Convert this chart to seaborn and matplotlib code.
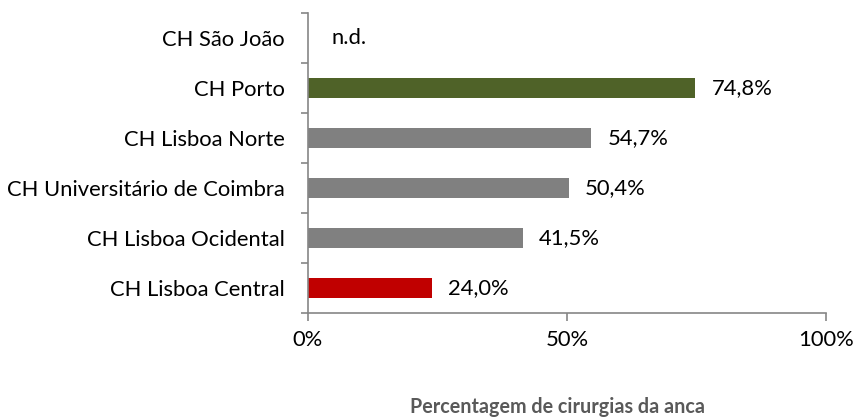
import matplotlib
matplotlib.use("Agg")
import matplotlib.pyplot as plt
import matplotlib.ticker as mticker
import seaborn as sns
import numpy as np
import pandas as pd

# dados (de cima para baixo)
hospitais = ["CH São João", "CH Porto", "CH Lisboa Norte",
             "CH Universitário de Coimbra", "CH Lisboa Ocidental", "CH Lisboa Central"]
percentagem = [np.nan, 74.8, 54.7, 50.4, 41.5, 24.0]
cores = ["#808080", "#4F6228", "#808080", "#808080", "#808080", "#C00000"]
rotulos = ["n.d.", "74,8%", "54,7%", "50,4%", "41,5%", "24,0%"]

df = pd.DataFrame({"hospital": hospitais, "pct": percentagem})

sns.set_style("white")
plt.rcParams['font.family'] = ['Lato', 'DejaVu Sans']

fig = plt.figure(figsize=(8.54, 4.17), dpi=100)
ax = fig.add_axes([308 / 854, 1 - 313 / 417, 518 / 854, 300 / 417])

sns.barplot(data=df, y="hospital", x="pct", hue="hospital",
            palette=dict(zip(hospitais, cores)), order=hospitais,
            width=0.4, legend=False, ax=ax, saturation=1, linewidth=0)

ax.set_xlim(0, 100)
ax.set_ylim(len(hospitais) - 0.5, -0.5)
ax.set_xticks([0, 50, 100])
ax.xaxis.set_major_formatter(mticker.FuncFormatter(lambda v, p: f"{v:.0f}%"))

# marcas do eixo y nas fronteiras entre categorias
ax.set_yticks(np.arange(len(hospitais)))
ax.set_yticks(np.arange(-0.5, len(hospitais), 1), minor=True)
ax.tick_params(axis="y", which="major", length=0, pad=16.5, labelsize=15.8, labelcolor="black")
ax.tick_params(axis="y", which="minor", length=5, width=1.2, color="#868686", direction="out")
ax.tick_params(axis="x", length=5.5, width=1.2, color="#868686", direction="out",
               pad=7, labelsize=15.8, labelcolor="black")
ax.tick_params(left=True, bottom=True, which="both")

for s in ["top", "right"]:
    ax.spines[s].set_visible(False)
for s in ["left", "bottom"]:
    ax.spines[s].set_color("#868686")
    ax.spines[s].set_linewidth(1.2)

ax.set_xlabel("")
ax.set_ylabel("")

for i, (v, lab) in enumerate(zip(percentagem, rotulos)):
    xpos = 4.6 if np.isnan(v) else v + 3.1
    ax.text(xpos, i, lab, va="center", ha="left", fontsize=15.8, color="black")

fig.text(558 / 854, 1 - 407 / 417, "Percentagem de cirurgias da anca",
         ha="center", va="center", fontsize=14.2, fontweight="bold", color="#595959")

fig.savefig("out.png", dpi=100)
